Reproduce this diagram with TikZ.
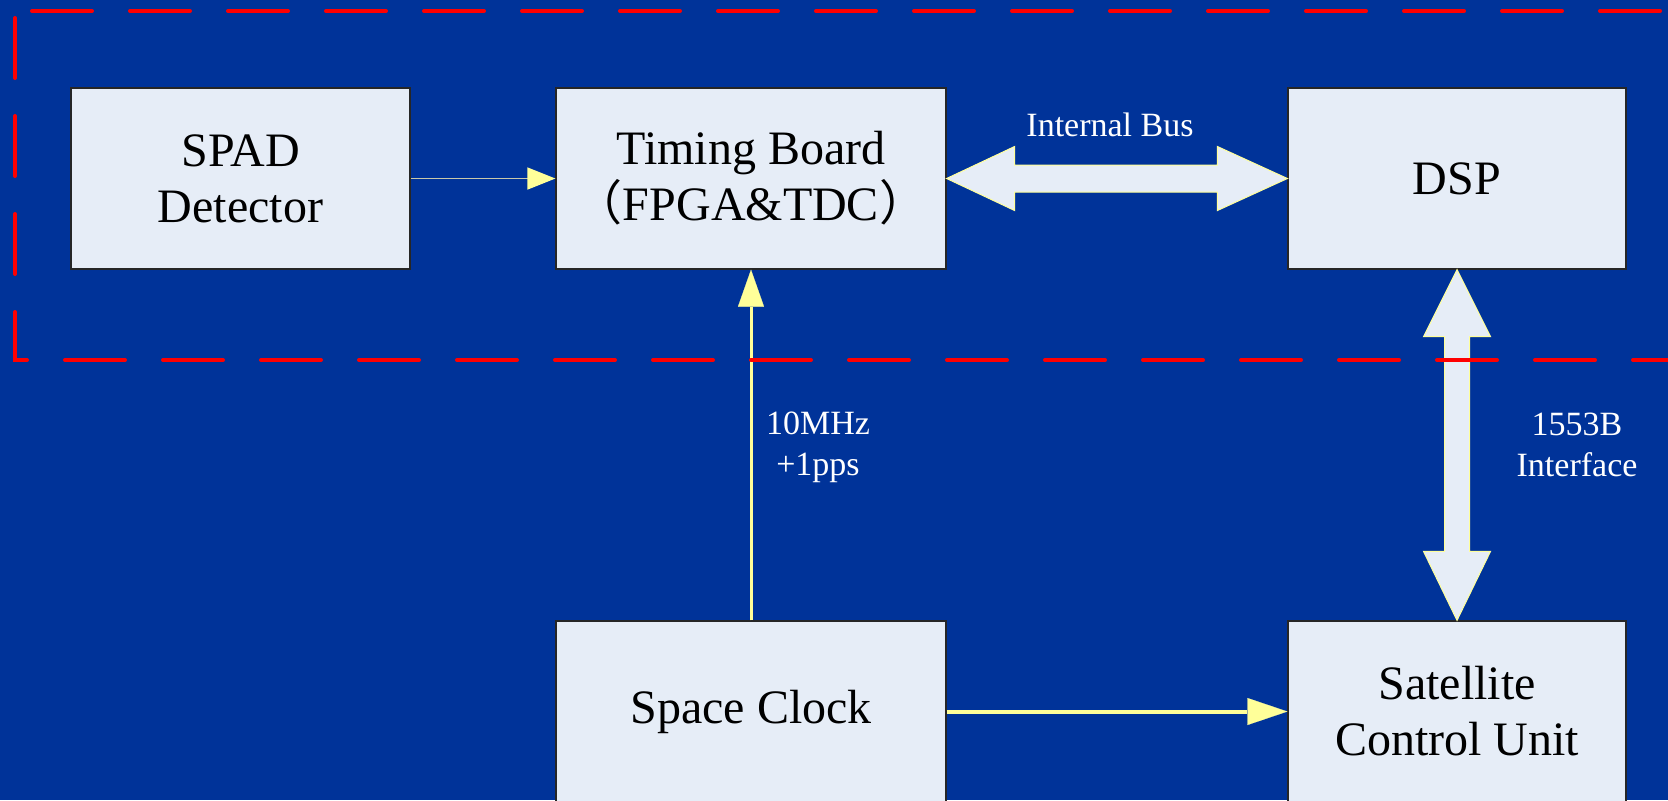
\documentclass[tikz,border=0pt]{standalone}
\usepackage{fontspec}
\setmainfont{Liberation Serif}
\newfontfamily\cjk{Noto Sans CJK SC}
\usetikzlibrary{arrows.meta,calc}
\definecolor{bgblue}{RGB}{0,51,153}
\definecolor{boxfill}{RGB}{230,237,247}
\definecolor{arryellow}{RGB}{255,255,153}
\definecolor{thinline}{RGB}{200,200,170}
\tikzset{
  blockbox/.style={draw=black!85, line width=0.6pt, fill=boxfill, inner sep=0pt,
    align=center, font=\fontsize{24}{28}\selectfont, text=black},
  lbl/.style={align=center, text=white, font=\fontsize{17}{20.5}\selectfont, inner sep=0pt},
  thinarrow/.style={draw=thinline, line width=0.7pt,
    -{Triangle[length=14pt,width=11pt,color=arryellow,fill=arryellow]}},
  yelarrow/.style={draw=arryellow, line width=1.5pt,
    -{Triangle[length=18.5pt,width=13pt,color=arryellow,fill=arryellow,line width=0.1pt]}},
  yelarrowb/.style={draw=arryellow, line width=2pt,
    -{Triangle[length=20pt,width=13.5pt,color=arryellow,fill=arryellow,line width=0.1pt]}},
  blockarr/.style={fill=boxfill, draw=arryellow, line width=0.5pt, line join=miter},
  reddash/.style={draw=red, line width=2pt, line cap=round,
    dash pattern=on 30pt off 19pt}
}
\begin{document}
\begin{tikzpicture}[x=0.5pt,y=-0.5pt]
\useasboundingbox (0,0) rectangle (1668,800);
\fill[bgblue] (0,0) rectangle (1668,800);

% boxes
\node[blockbox, minimum width=169.5pt, minimum height=90.5pt] (spad) at (240.5,178.5) {SPAD\\Detector};
\node[blockbox, minimum width=195pt, minimum height=90.5pt] (tb) at (751,178.5) {Timing Board\\{\cjk （}FPGA\&TDC{\cjk ）}};
\node[blockbox, minimum width=169pt, minimum height=90.5pt] (dsp) at (1457,178.5) {DSP};
\node[blockbox, minimum width=195pt, minimum height=90.5pt] (sc) at (751,711.5) {Space Clock};
\node[blockbox, minimum width=169pt, minimum height=90.5pt] (scu) at (1457,711.5) {Satellite\\Control Unit};

% thin arrow SPAD -> Timing Board
\draw[thinarrow] (spad.east) -- (tb.west);

% Internal bus block arrow
\coordinate (ib1) at (tb.east);
\coordinate (ib2) at (dsp.west);
\draw[blockarr] (ib1) -- ++(68,-32) -- ++(0,18.5) -- ($(ib2)+(-70,-13.5)$) -- ++(0,-18.5)
  -- (ib2) -- ++(-70,32) -- ++(0,-18.5) -- ($(ib1)+(68,13.5)$) -- ++(0,18.5) -- cycle;
\node[lbl] (iblbl) at (1110,125) {Internal Bus};

% 1553B block arrow
\coordinate (v1) at (dsp.south);
\coordinate (v2) at (scu.north);
\draw[blockarr] (v1) -- ++(33.5,67) -- ++(-21,0) -- ($(v2)+(12.5,-69)$) -- ++(21,0)
  -- (v2) -- ++(-33.5,-69) -- ++(21,0) -- ($(v1)+(-12.5,67)$) -- ++(-21,0) -- cycle;
\node[lbl] (ifl) at (1577,445) {1553B\\Interface};

% clock arrows
\draw[yelarrow] (sc.north) -- (tb.south);
\node[lbl] (clk) at (818,447) {10MHz\\+1pps};
\draw[yelarrowb] (sc.east) -- (scu.west);

% dashed frame
\draw[reddash, dash phase=12.5pt] (1668,360) -- (15,360) -- (15,11);
\draw[reddash, dash phase=40.5pt] (15,11) -- (1668,11);
\end{tikzpicture}
\end{document}
